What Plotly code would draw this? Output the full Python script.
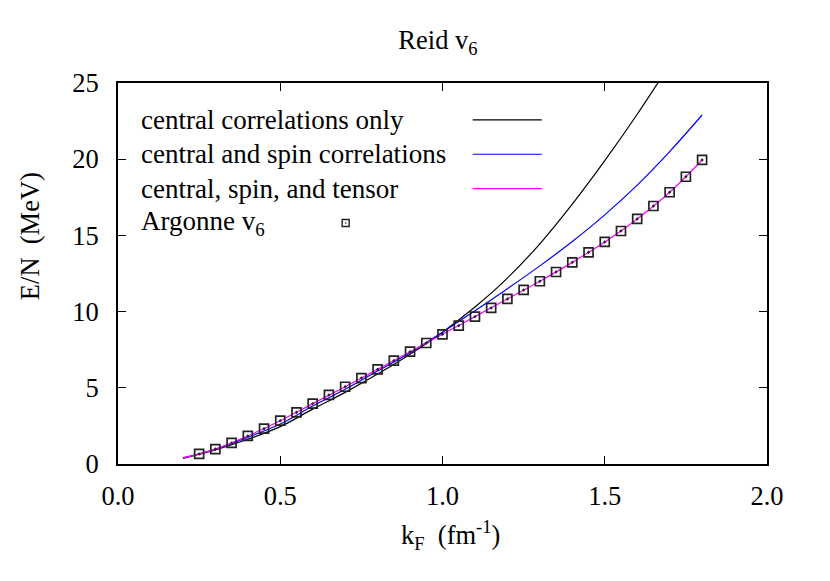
import plotly.graph_objects as go

# k_F grid for the variational curves (fm^-1)
k_curve = [0.2, 0.3, 0.4, 0.5, 0.6, 0.7, 0.8, 0.9, 1.0, 1.1, 1.2, 1.3, 1.4, 1.5, 1.6, 1.7, 1.8]

# E/N (MeV) for the three levels of correlations
central_only = [0.37, 0.92, 1.62, 2.45, 3.6, 4.7, 5.9, 7.2, 8.65, 10.3, 12.2, 14.45, 17.05, 19.9, 22.95, 26.2, 29.6]
central_spin = [0.4, 0.97, 1.75, 2.62, 3.8, 4.9, 6.1, 7.3, 8.65, 10.05, 11.5, 13.0, 14.6, 16.35, 18.3, 20.5, 22.9]
central_spin_tensor = [0.4, 0.98, 1.84, 2.84, 3.96, 5.07, 6.21, 7.37, 8.51, 9.67, 10.83, 11.99, 13.23, 14.57, 16.08, 17.83, 19.95]

# Argonne v6 reference points
k_av6 = [0.25, 0.30, 0.35, 0.40, 0.45, 0.50, 0.55, 0.60, 0.65, 0.70, 0.75, 0.80, 0.85, 0.90, 0.95, 1.00,
         1.05, 1.10, 1.15, 1.20, 1.25, 1.30, 1.35, 1.40, 1.45, 1.50, 1.55, 1.60, 1.65, 1.70, 1.75, 1.80]
e_av6 = [0.66, 0.98, 1.38, 1.84, 2.32, 2.84, 3.39, 3.96, 4.53, 5.07, 5.64, 6.21, 6.78, 7.37, 7.94, 8.51,
         9.08, 9.67, 10.24, 10.83, 11.42, 11.99, 12.60, 13.23, 13.89, 14.57, 15.29, 16.08, 16.93, 17.83, 18.85, 19.95]

x_ticks = [0.0, 0.5, 1.0, 1.5, 2.0]
y_ticks = [0, 5, 10, 15, 20, 25]

FONT = "Liberation Serif, Times New Roman, serif"
FS = 26.5

curves = [
    ("central correlations only", central_only, "black"),
    ("central and spin correlations", central_spin, "#0000ff"),
    ("central, spin, and tensor", central_spin_tensor, "#ff00ff"),
]

fig = go.Figure()
for name, vals, col in curves:
    fig.add_trace(go.Scatter(x=k_curve, y=vals, mode="lines", name=name,
                             line=dict(color=col, width=1.2, shape="spline"),
                             showlegend=False))

fig.add_trace(go.Scatter(x=k_av6, y=e_av6, mode="markers", name="Argonne v6",
                         marker=dict(symbol="square-open-dot", size=9, color="#222",
                                     line=dict(width=1.7, color="#222")),
                         showlegend=False))

# gnuplot-style key: text on the left, sample on the right
rows_y = [0.903, 0.813, 0.7226, 0.6325]
labels = [c[0] for c in curves] + ["Argonne v<sub>6</sub>"]
annotations = []
shapes = []
for i, lab in enumerate(labels):
    annotations.append(dict(x=0.0328, y=rows_y[i], xref="paper", yref="paper", text=lab,
                            showarrow=False, xanchor="left", yanchor="middle",
                            font=dict(family=FONT, size=27, color="black")))
for i, (_, _, col) in enumerate(curves):
    shapes.append(dict(type="line", xref="paper", yref="paper", x0=0.5465, x1=0.6529,
                       y0=rows_y[i], y1=rows_y[i], line=dict(color=col, width=1.2)))
# key sample for the Argonne points
shapes.append(dict(type="rect", xref="paper", yref="paper", xsizemode="pixel", ysizemode="pixel",
                   xanchor=0.3508, yanchor=rows_y[3], x0=-3.5, x1=3.5, y0=-3.5, y1=3.5,
                   line=dict(color="#222", width=1.4)))
shapes.append(dict(type="rect", xref="paper", yref="paper", xsizemode="pixel", ysizemode="pixel",
                   xanchor=0.3508, yanchor=rows_y[3], x0=-0.7, x1=0.7, y0=-0.7, y1=0.7,
                   fillcolor="#222", line=dict(width=0)))

# axis titles
annotations.append(dict(x=0.5125, y=-0.186, xref="paper", yref="paper",
                        text="k<sub>F</sub>&nbsp;&nbsp;(fm<sup>-1</sup>)", showarrow=False,
                        xanchor="center", yanchor="middle",
                        font=dict(family=FONT, size=FS, color="black")))
annotations.append(dict(x=-0.1356, y=0.598, xref="paper", yref="paper",
                        text="E/N&nbsp;&nbsp;(MeV)", showarrow=False, textangle=-90,
                        xanchor="center", yanchor="middle",
                        font=dict(family=FONT, size=FS, color="black")))

axis_common = dict(showgrid=False, zeroline=False, showline=True, linecolor="black",
                   linewidth=2, mirror="ticks", ticks="inside", ticklen=8, tickwidth=1,
                   tickcolor="black", tickfont=dict(family=FONT, size=FS, color="black"))

# margins allow for the 8px default body margin of the html page
fig.update_layout(
    width=830, height=581,
    plot_bgcolor="white", paper_bgcolor="white",
    margin=dict(l=110, r=71, t=75, b=125),
    title=dict(text="Reid v<sub>6</sub>", x=0.518, xanchor="center", y=0.945, yanchor="middle",
               font=dict(family=FONT, size=FS, color="black")),
    xaxis=dict(range=[0, 2], tickvals=x_ticks, tickformat=".1f", ticklabelstandoff=7, **axis_common),
    yaxis=dict(range=[0, 25], tickvals=y_ticks, ticklabelstandoff=12, **axis_common),
    annotations=annotations,
    shapes=shapes,
    showlegend=False,
)

fig.write_html("out.html")
